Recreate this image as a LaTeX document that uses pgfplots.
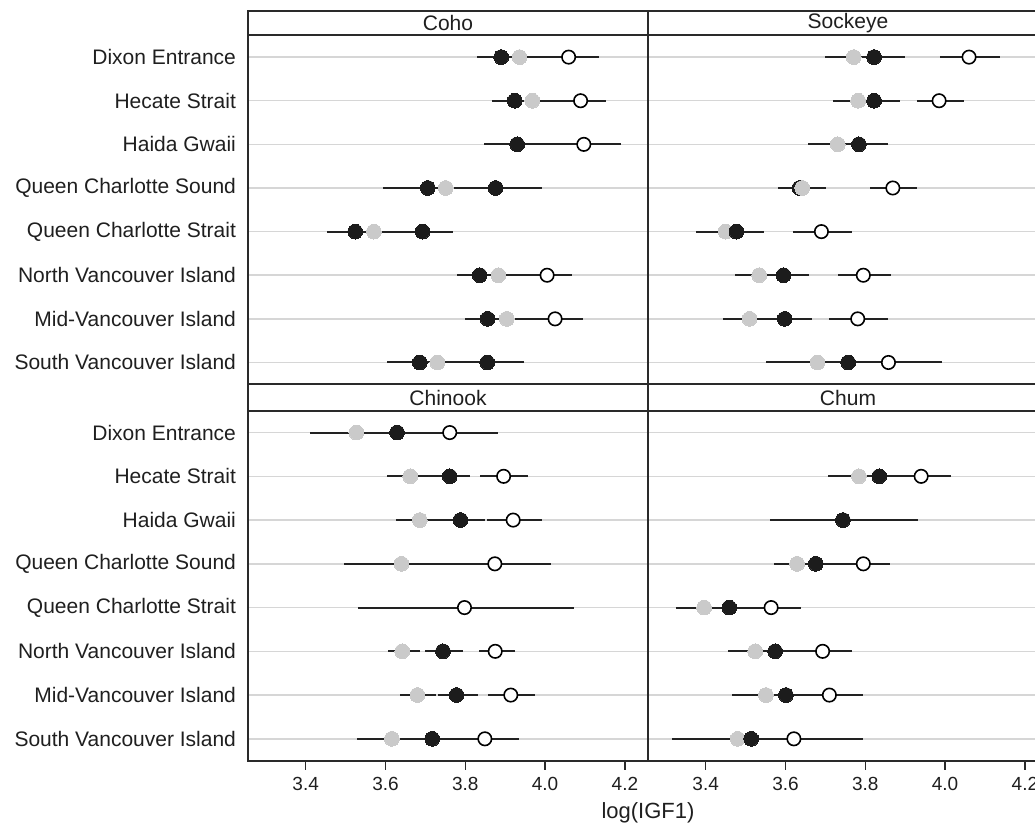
\documentclass[border=0pt]{standalone}
\usepackage{pgfplots}
\usepackage{pgfplotstable}
\pgfplotsset{compat=1.18}
\usepackage{fontspec}
\setmainfont{Liberation Sans}
\definecolor{dotgrey}{HTML}{CACACA}
\definecolor{dotblack}{HTML}{1C1C1C}
\definecolor{gridgrey}{HTML}{D6D6D6}
\definecolor{frame}{HTML}{2A2A2A}
\definecolor{cil}{HTML}{222222}

% columns: y, grey (g), black (b), white (w), second black (k); lo/hi = interval ends
\pgfplotstableread{
y g glo ghi b blo bhi w wlo whi k klo khi
8 3.936 3.870 4.000 3.890 3.830 3.990 4.059 3.990 4.134 nan nan nan
7 3.968 3.900 4.030 3.924 3.868 3.980 4.089 4.030 4.153 nan nan nan
6 nan nan nan 3.930 3.848 4.020 4.097 4.010 4.191 nan nan nan
5 3.751 3.640 3.840 3.706 3.593 3.800 nan nan nan 3.876 3.800 3.991
4 3.571 3.500 3.640 3.524 3.454 3.600 nan nan nan 3.693 3.620 3.768
3 3.883 3.830 3.940 3.836 3.780 3.900 4.005 3.940 4.068 nan nan nan
2 3.904 3.850 3.960 3.856 3.800 3.920 4.025 3.960 4.096 nan nan nan
1 3.730 3.660 3.800 3.686 3.603 3.770 nan nan nan 3.855 3.770 3.946
}\coho
\pgfplotstableread{
y g glo ghi b blo bhi w wlo whi k klo khi
8 3.771 3.698 3.850 3.822 3.750 3.899 4.060 3.986 4.137 nan nan nan
7 3.782 3.718 3.850 3.822 3.760 3.886 3.985 3.929 4.048 nan nan nan
6 3.731 3.657 3.800 3.784 3.710 3.858 nan nan nan nan nan nan
5 3.642 3.590 3.702 3.635 3.580 3.690 3.869 3.813 3.930 nan nan nan
4 3.450 3.376 3.520 3.477 3.400 3.547 3.690 3.620 3.767 nan nan nan
3 3.534 3.474 3.600 3.595 3.530 3.658 3.795 3.732 3.865 nan nan nan
2 3.510 3.443 3.580 3.598 3.530 3.666 3.781 3.708 3.856 nan nan nan
1 3.680 3.552 3.800 3.757 3.640 3.870 3.858 3.700 3.993 nan nan nan
}\sockeye
\pgfplotstableread{
y g glo ghi b blo bhi w wlo whi k klo khi
8 3.527 3.410 3.640 3.629 3.520 3.740 3.761 3.640 3.882 nan nan nan
7 3.662 3.604 3.720 3.761 3.710 3.813 3.896 3.838 3.957 nan nan nan
6 3.686 3.627 3.730 3.788 3.730 3.849 3.920 3.854 3.991 nan nan nan
5 3.640 3.495 3.790 nan nan nan 3.874 3.730 4.014 nan nan nan
4 nan nan nan nan nan nan 3.798 3.532 4.072 nan nan nan
3 3.642 3.606 3.686 3.744 3.698 3.794 3.875 3.834 3.924 nan nan nan
2 3.680 3.637 3.726 3.778 3.732 3.832 3.914 3.857 3.974 nan nan nan
1 3.616 3.529 3.700 3.717 3.640 3.800 3.849 3.760 3.934 nan nan nan
}\chinook
\pgfplotstableread{
y g glo ghi b blo bhi w wlo whi k klo khi
7 3.784 3.706 3.860 3.835 3.760 3.920 3.940 3.860 4.015 nan nan nan
6 nan nan nan 3.744 3.560 3.933 nan nan nan nan nan nan
5 3.629 3.570 3.700 3.676 3.600 3.740 3.795 3.740 3.861 nan nan nan
4 3.396 3.325 3.470 3.459 3.380 3.540 3.564 3.490 3.639 nan nan nan
3 3.524 3.457 3.590 3.574 3.500 3.650 3.693 3.620 3.767 nan nan nan
2 3.551 3.467 3.630 3.601 3.520 3.690 3.710 3.630 3.794 nan nan nan
1 3.480 3.315 3.600 3.514 3.350 3.680 3.621 3.450 3.794 nan nan nan
}\chum

\newcommand{\ci}[4]{%
  \addplot[only marks, mark=none, forget plot,
    error bars/.cd, x dir=both, x explicit, error mark=none,
    error bar style={line width=1pt, color=cil}]
    table[x=#2, y=y, x error plus expr=\thisrow{#4}-\thisrow{#2},
          x error minus expr=\thisrow{#2}-\thisrow{#3}] {#1};}
\newcommand{\panel}[1]{%
  \ci{#1}{g}{glo}{ghi}\ci{#1}{b}{blo}{bhi}\ci{#1}{w}{wlo}{whi}\ci{#1}{k}{klo}{khi}
  \addplot[only marks, mark=*, mark size=3.7pt, color=dotgrey, mark options={fill=dotgrey, draw=dotgrey, line width=0pt}] table[x=g, y=y] {#1};
  \addplot[only marks, mark=*, mark size=3.7pt, color=dotblack, mark options={fill=dotblack, draw=dotblack, line width=0pt}] table[x=b, y=y] {#1};
  \addplot[only marks, mark=*, mark size=3.7pt, color=dotblack, mark options={fill=dotblack, draw=dotblack, line width=0pt}] table[x=k, y=y] {#1};
  \addplot[only marks, mark=*, mark size=3.35pt, color=black, mark options={fill=white, draw=black, line width=0.8pt}] table[x=w, y=y] {#1};}
\newcommand{\strip}[2]{%
  \draw[line width=0.9pt, draw=frame, fill=white] (rel axis cs:0,1) rectangle ([yshift=#2]rel axis cs:1,1);
  \node[font=\fontsize{10.5}{12}\selectfont, text=black!88] at ([yshift=#2/2]rel axis cs:0.5,1) {#1};}

\pgfplotsset{
  panel/.style={
    scale only axis, width=200pt, anchor=south west, clip=false,
    xmin=3.2554, xmax=4.2579, ymin=0.5, ymax=8.5,
    ytick={1,...,8}, ymajorgrids,
    grid style={line width=0.75pt, color=gridgrey},
    axis line style={line width=0.9pt, color=frame},
    ytick style={draw=none},
    tick align=outside, xtick pos=bottom,
    xtick={3.4,3.6,3.8,4.0,4.2},
    major tick length=4.5pt,
    xtick style={line width=0.7pt, color=frame},
    yticklabel style={font=\fontsize{10.5}{12}\selectfont, text=black!88, xshift=2pt},
    xticklabel style={font=\fontsize{9.5}{11}\selectfont, text=black!88,
      /pgf/number format/.cd, fixed, fixed zerofill, precision=1, assume math mode=true},
  },
  toppanel/.style={panel, height=174.5pt, xtick=\empty},
  botpanel/.style={panel, height=175pt},
  leftlabels/.style={yticklabels={South Vancouver Island, Mid-Vancouver Island, North Vancouver Island, Queen Charlotte Strait, Queen Charlotte Sound, Haida Gwaii, Hecate Strait, Dixon Entrance}},
  nolabels/.style={yticklabels={}},
}

\begin{document}
\begin{tikzpicture}
\begin{axis}[toppanel, leftlabels, at={(124pt,220.85pt)}]
\panel{\coho}
\strip{Coho}{12.3pt}
\end{axis}
\begin{axis}[toppanel, nolabels, at={(324pt,220.85pt)}]
\panel{\sockeye}
\addplot[only marks, mark=*, mark size=3.7pt, color=dotgrey, mark options={fill=dotgrey, draw=dotgrey, line width=0pt}] coordinates {(3.642,5)};
\strip{Sockeye}{12.3pt}
\end{axis}
\begin{axis}[botpanel, leftlabels, at={(124pt,32.65pt)},
  xlabel={log(IGF1)},
  xlabel style={at={(axis description cs:1,0)}, anchor=base, yshift=-28.65pt,
    font=\fontsize{11}{13}\selectfont, text=black!88}]
\panel{\chinook}
\strip{Chinook}{13.2pt}
\end{axis}
\begin{axis}[botpanel, nolabels, at={(324pt,32.65pt)}]
\panel{\chum}
\strip{Chum}{13.2pt}
\end{axis}
\pgfresetboundingbox
\path[use as bounding box] (0,0) rectangle (517.5pt,413pt);
\end{tikzpicture}
\end{document}
